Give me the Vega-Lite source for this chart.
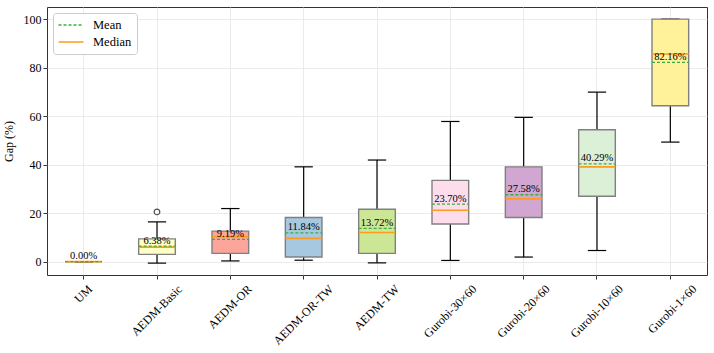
{
  "$schema": "https://vega.github.io/schema/vega-lite/v6.json",
  "autosize": {"type": "none"},
  "width": 660,
  "height": 268,
  "padding": {"left": 47, "top": 7, "right": 7, "bottom": 78},
  "background": "white",
  "config": {
    "view": {"stroke": "#333", "strokeWidth": 1},
    "font": "Liberation Serif",
    "axis": {
      "labelFont": "Liberation Serif", "titleFont": "Liberation Serif",
      "labelFontSize": 12, "titleFontSize": 12, "titleFontWeight": "normal",
      "labelColor": "#000", "titleColor": "#000",
      "domainColor": "#333", "tickColor": "#333", "tickSize": 4,
      "gridColor": "#e6e6e6", "gridWidth": 0.8
    },
    "axisX": {
      "labelAngle": -45, "labelAlign": "right", "labelBaseline": "top", "grid": true, "domain": false, "labelPadding": 4, "title": null,
      "labelOffset": {"expr": "datum.label == 'UM' ? 3 : datum.label == 'AEDM-Basic' ? 19.5 : datum.label == 'AEDM-OR' ? 15.9 : datum.label == 'AEDM-OR-TW' ? 23.9 : datum.label == 'AEDM-TW' ? 16.6 : 20.5"}
    }
  },
  "datasets": {
    "stats": [
      {"cat": "UM", "lo": 0, "q1": 0, "median": 0, "q3": 0, "hi": 0, "mean": 0.00},
      {"cat": "AEDM-Basic", "lo": -0.6, "q1": 3.0, "median": 6.0, "q3": 9.4, "hi": 16.4, "mean": 6.38},
      {"cat": "AEDM-OR", "lo": 0.3, "q1": 3.4, "median": 10.3, "q3": 12.6, "hi": 21.9, "mean": 9.19},
      {"cat": "AEDM-OR-TW", "lo": 0.6, "q1": 1.9, "median": 9.6, "q3": 18.2, "hi": 39.1, "mean": 11.84},
      {"cat": "AEDM-TW", "lo": -0.5, "q1": 3.4, "median": 12.0, "q3": 21.6, "hi": 41.9, "mean": 13.72},
      {"cat": "Gurobi-30×60", "lo": 0.5, "q1": 15.5, "median": 21.2, "q3": 33.5, "hi": 57.8, "mean": 23.70},
      {"cat": "Gurobi-20×60", "lo": 1.9, "q1": 18.2, "median": 25.9, "q3": 39.1, "hi": 59.5, "mean": 27.58},
      {"cat": "Gurobi-10×60", "lo": 4.6, "q1": 27.0, "median": 39.1, "q3": 54.4, "hi": 69.9, "mean": 40.29},
      {"cat": "Gurobi-1×60", "lo": 49.3, "q1": 64.3, "median": 85.6, "q3": 100, "hi": 100, "mean": 82.16}
    ],
    "outliers": [
      {"cat": "AEDM-Basic", "value": 20.5}
    ]
  },
  "data": {"name": "stats"},
  "layer": [
    {
      "mark": {"type": "rule", "color": "#000", "strokeWidth": 1.2},
      "encoding": {
        "x": {"field": "cat", "type": "nominal", "sort": null, "bandPosition": 0.5, "title": null,
              "scale": {"type": "band", "paddingInner": 0, "paddingOuter": 0}},
        "y": {"field": "lo", "type": "quantitative",
              "scale": {"domain": [-5.5, 105], "nice": false, "zero": false},
              "axis": {"values": [0, 20, 40, 60, 80, 100], "title": "Gap (%)", "grid": true, "domain": false, "titlePadding": 8}},
        "y2": {"field": "q1"}
      }
    },
    {
      "mark": {"type": "rule", "color": "#000", "strokeWidth": 1.2},
      "encoding": {
        "x": {"field": "cat", "type": "nominal", "sort": null, "bandPosition": 0.5},
        "y": {"field": "q3", "type": "quantitative"},
        "y2": {"field": "hi"}
      }
    },
    {
      "mark": {"type": "rule", "color": "#000", "strokeWidth": 1.2},
      "encoding": {
        "x": {"field": "cat", "type": "nominal", "sort": null, "bandPosition": 0.375},
        "x2": {"field": "cat", "bandPosition": 0.625},
        "y": {"field": "lo", "type": "quantitative"}
      }
    },
    {
      "mark": {"type": "rule", "color": "#000", "strokeWidth": 1.2},
      "encoding": {
        "x": {"field": "cat", "type": "nominal", "sort": null, "bandPosition": 0.375},
        "x2": {"field": "cat", "bandPosition": 0.625},
        "y": {"field": "hi", "type": "quantitative"}
      }
    },
    {
      "mark": {"type": "bar", "stroke": "#808080", "strokeWidth": 1.4, "width": {"band": 0.5}},
      "encoding": {
        "x": {"field": "cat", "type": "nominal", "sort": null},
        "y": {"field": "q1", "type": "quantitative"},
        "y2": {"field": "q3"},
        "fill": {
          "field": "cat", "type": "nominal", "legend": null,
          "scale": {
            "domain": ["UM", "AEDM-Basic", "AEDM-OR", "AEDM-OR-TW", "AEDM-TW", "Gurobi-30×60", "Gurobi-20×60", "Gurobi-10×60", "Gurobi-1×60"],
            "range": ["#afe0d8", "#ffffc6", "#fca59b", "#a6c8e0", "#cbe796", "#fddcec", "#d1a6d1", "#dbf0d6", "#fff29a"]
          }
        }
      }
    },
    {
      "mark": {"type": "rule", "strokeWidth": 1.6},
      "encoding": {
        "x": {"field": "cat", "type": "nominal", "sort": null, "bandPosition": 0.25},
        "x2": {"field": "cat", "bandPosition": 0.75},
        "y": {"field": "median", "type": "quantitative"},
        "color": {"datum": "Median"}
      }
    },
    {
      "mark": {"type": "rule", "strokeWidth": 1.3, "strokeDash": [3, 2]},
      "encoding": {
        "x": {"field": "cat", "type": "nominal", "sort": null, "bandPosition": 0.25},
        "x2": {"field": "cat", "bandPosition": 0.75},
        "y": {"field": "mean", "type": "quantitative"},
        "color": {
          "datum": "Mean",
          "scale": {"domain": ["Mean", "Median"], "range": ["#3cad3c", "#ff9a1c"]},
          "legend": {
            "title": null, "orient": "top-left", "offset": 6,
            "symbolType": "M-2,0H2", "symbolSize": 156, "symbolStrokeWidth": 1.5, "symbolOffset": 6,
            "labelFont": "Liberation Serif", "labelFontSize": 12.5, "labelColor": "#000",
            "strokeColor": "#ccc", "fillColor": "white", "cornerRadius": 3, "padding": 5,
            "rowPadding": 3, "labelOffset": 15,
            "encode": {"symbols": {"update": {"strokeDash": {"signal": "datum.label === 'Mean' ? [3, 2] : [1, 0]"}}}}
          }
        }
      }
    },
    {
      "transform": [{"calculate": "format(datum.mean, '.2f') + '%'", "as": "label"}],
      "mark": {"type": "text", "baseline": "bottom", "font": "Liberation Serif", "fontSize": 10.5, "color": "#000", "dy": -0.5},
      "encoding": {
        "x": {"field": "cat", "type": "nominal", "sort": null, "bandPosition": 0.5},
        "y": {"field": "mean", "type": "quantitative"},
        "text": {"field": "label"}
      }
    },
    {
      "data": {"name": "outliers"},
      "mark": {"type": "point", "shape": "circle", "filled": false, "color": "#000", "size": 32, "strokeWidth": 1.2},
      "encoding": {
        "x": {"field": "cat", "type": "nominal", "sort": null, "bandPosition": 0.5},
        "y": {"field": "value", "type": "quantitative"}
      }
    }
  ]
}
